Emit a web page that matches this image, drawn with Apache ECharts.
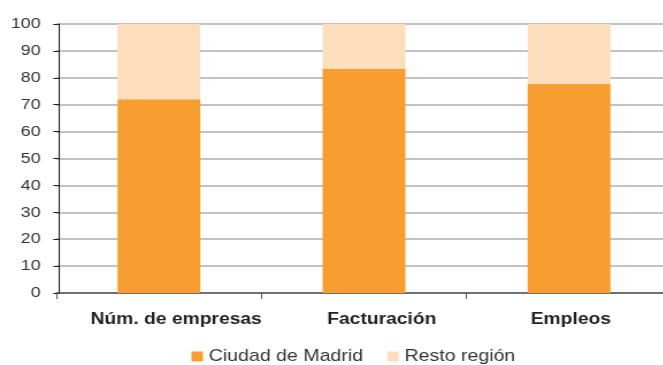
<!DOCTYPE html>
<html>
<head>
<meta charset="utf-8">
<script src="https://cdn.jsdelivr.net/npm/echarts@6/dist/echarts.min.js"></script>
<style>
  html, body { margin: 0; padding: 0; background: #fff; overflow: hidden; }
  #wrap { width: 663px; height: 365px; overflow: hidden; position: relative; }
  /* the figure is laid out in a slightly wide aspect: lay out narrower, then widen */
  #chart { width: 600px; height: 365px; transform: scaleX(1.15); transform-origin: 0 0; }
</style>
</head>
<body>
<div id="wrap"><div id="chart"></div></div>
<script>
// Share of companies, turnover and employment: city vs rest of region (%)
const categories = ['Núm. de empresas', 'Facturación', 'Empleos'];
const ciudadMadrid = [72, 83.4, 77.8];
const restoRegion = [28, 16.6, 22.2];
const yTicks = { min: 0, max: 100, interval: 10 };

const FONT = '"Liberation Sans", Arial, Helvetica, sans-serif';

// category captions sit a little right of their bars
const captionPad = [30, 31, 3];
const captionRich = {};
captionPad.forEach((p, i) => {
  captionRich['c' + i] = {
    padding: [0, 0, 0, p],
    fontSize: 16.75, fontWeight: 'bold', color: '#222', fontFamily: FONT
  };
});

const chart = echarts.init(document.getElementById('chart'), null, { renderer: 'canvas' });
chart.setOption({
  animation: false,
  textStyle: { fontFamily: FONT },
  grid: { left: 49, top: 24, width: 535, height: 269, containLabel: false },
  legend: {
    left: 161.5, top: 343,
    icon: 'rect', itemWidth: 10, itemHeight: 10, itemGap: 21,
    textStyle: { fontSize: 17, color: '#333', fontFamily: FONT },
    data: ['Ciudad de Madrid', 'Resto región']
  },
  xAxis: {
    type: 'category',
    data: categories,
    axisLine: { lineStyle: { color: '#555', width: 1.5 } },
    axisTick: { show: true, length: 6, lineStyle: { color: '#555', width: 1 } },
    axisLabel: {
      interval: 0, margin: 18,
      fontSize: 16.75, fontWeight: 'bold', color: '#222', fontFamily: FONT,
      formatter: (v, i) => '{c' + i + '|' + v + '}',
      rich: captionRich
    }
  },
  yAxis: {
    type: 'value',
    offset: -2.3,
    min: yTicks.min, max: yTicks.max, interval: yTicks.interval,
    axisLine: { show: true, lineStyle: { color: '#222', width: 1.1 } },
    axisTick: { show: true, length: 5, lineStyle: { color: '#222', width: 1 } },
    axisLabel: { margin: 16, fontSize: 15.5, color: '#333', fontFamily: FONT },
    splitLine: { lineStyle: { color: '#c2c2c2', width: 2 } }
  },
  series: [
    {
      name: 'Ciudad de Madrid', type: 'bar', stack: 'total',
      data: ciudadMadrid, barWidth: 72,
      itemStyle: { color: '#F89D2F' }
    },
    {
      name: 'Resto región', type: 'bar', stack: 'total',
      data: restoRegion, barWidth: 72,
      itemStyle: { color: '#FDDEBC' }
    }
  ]
});
</script>
</body>
</html>
